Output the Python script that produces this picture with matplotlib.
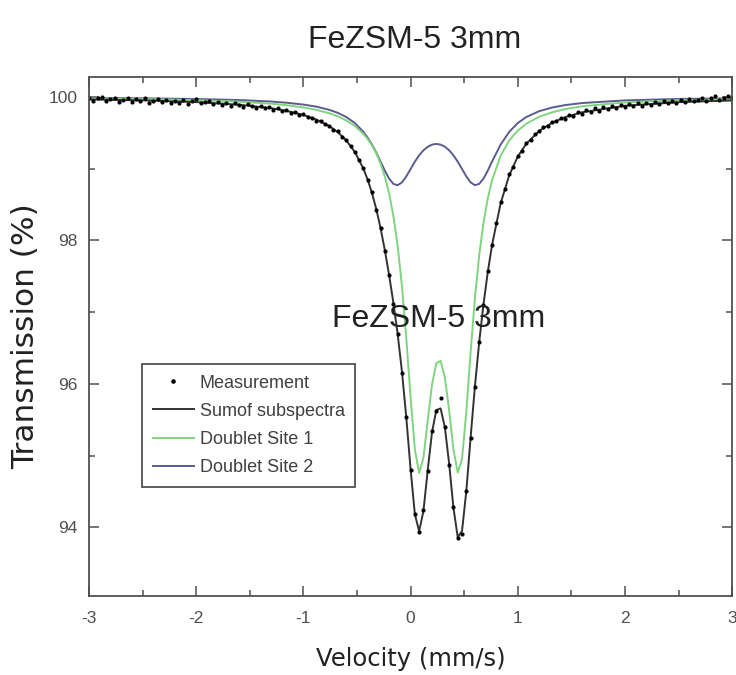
import numpy as np
import matplotlib.pyplot as plt
from matplotlib.ticker import MultipleLocator

plt.rcParams['axes.unicode_minus'] = False

# --- data ---
# measurement channels, evenly spaced between -3 and 3 mm/s
vel = np.linspace(-3.0, 3.0, 151)
measurement = [
    99.99, 99.95, 99.98, 100.00, 99.94, 99.97, 99.99, 99.93, 99.96, 99.98,
    99.93, 99.97, 99.95, 99.99, 99.92, 99.94, 99.97, 99.93, 99.96, 99.91,
    99.95, 99.92, 99.96, 99.90, 99.94, 99.97, 99.91, 99.93, 99.95, 99.90,
    99.93, 99.89, 99.92, 99.88, 99.91, 99.89, 99.86, 99.90, 99.87, 99.85,
    99.88, 99.84, 99.86, 99.82, 99.84, 99.80, 99.82, 99.78, 99.79, 99.75,
    99.76, 99.72, 99.71, 99.67, 99.67, 99.62, 99.60, 99.54, 99.52, 99.44,
    99.40, 99.31, 99.24, 99.12, 99.01, 98.84, 98.67, 98.43, 98.18, 97.85,
    97.52, 97.11, 96.70, 96.15, 95.54, 94.80, 94.19, 93.93, 94.24, 94.78,
    95.34, 95.62, 95.80, 95.40, 94.87, 94.28, 93.85, 93.90, 94.50, 95.25,
    95.95, 96.59, 97.10, 97.57, 97.93, 98.24, 98.53, 98.72, 98.92, 99.03,
    99.18, 99.25, 99.36, 99.40, 99.49, 99.52, 99.58, 99.59, 99.65, 99.66,
    99.71, 99.70, 99.75, 99.74, 99.79, 99.77, 99.82, 99.79, 99.84, 99.81,
    99.86, 99.83, 99.87, 99.84, 99.89, 99.86, 99.90, 99.87, 99.91, 99.88,
    99.92, 99.89, 99.93, 99.90, 99.94, 99.91, 99.95, 99.92, 99.96, 99.93,
    99.97, 99.94, 99.96, 99.99, 99.95, 99.98, 100.01, 99.96, 99.99, 100.02,
    99.98,
]

# fitted curves
fit_vel = [-3.0, -2.5, -2.0, -1.6, -1.3, -1.16, -1.0, -0.88, -0.76, -0.68,
           -0.6, -0.52, -0.44, -0.4, -0.36, -0.32, -0.28, -0.24, -0.2, -0.16,
           -0.12, -0.08, -0.04, 0.0, 0.04, 0.08, 0.12, 0.16, 0.2, 0.24,
           0.28, 0.32, 0.36, 0.4, 0.44, 0.48, 0.52, 0.56, 0.6, 0.64,
           0.68, 0.72, 0.76, 0.84, 0.92, 1.0, 1.08, 1.2, 1.32, 1.44,
           1.6, 2.0, 2.5, 3.0]
sum_fit = [99.966, 99.953, 99.929, 99.893, 99.844, 99.808, 99.750, 99.687, 99.596, 99.511,
           99.395, 99.233, 99.000, 98.846, 98.660, 98.437, 98.171, 97.862, 97.514, 97.125,
           96.687, 96.165, 95.530, 94.810, 94.180, 93.943, 94.226, 94.794, 95.325, 95.633,
           95.657, 95.393, 94.883, 94.270, 93.861, 93.947, 94.502, 95.247, 95.960, 96.578,
           97.105, 97.555, 97.936, 98.516, 98.907, 99.169, 99.349, 99.527, 99.641, 99.718,
           99.787, 99.878, 99.928, 99.952]
site1 = [99.979, 99.971, 99.956, 99.935, 99.907, 99.887, 99.855, 99.822, 99.774, 99.731,
         99.674, 99.596, 99.486, 99.413, 99.324, 99.213, 99.072, 98.890, 98.653, 98.337,
         97.917, 97.355, 96.637, 95.814, 95.082, 94.756, 94.969, 95.488, 95.989, 96.287,
         96.321, 96.087, 95.626, 95.083, 94.763, 94.951, 95.609, 96.437, 97.190, 97.790,
         98.244, 98.583, 98.837, 99.180, 99.393, 99.532, 99.628, 99.725, 99.787, 99.831,
         99.871, 99.925, 99.955, 99.970]
site2 = [99.987, 99.982, 99.972, 99.958, 99.937, 99.921, 99.895, 99.866, 99.822, 99.780,
         99.721, 99.637, 99.514, 99.433, 99.336, 99.224, 99.099, 98.972, 98.861, 98.788,
         98.770, 98.810, 98.893, 98.996, 99.098, 99.187, 99.257, 99.306, 99.336, 99.346,
         99.336, 99.307, 99.257, 99.187, 99.098, 98.996, 98.893, 98.810, 98.770, 98.788,
         98.861, 98.972, 99.099, 99.336, 99.514, 99.637, 99.721, 99.803, 99.853, 99.887,
         99.916, 99.953, 99.973, 99.982]

sample = 'FeZSM-5 3mm'
grey = '#505050'

# --- figure ---
fig = plt.figure(figsize=(7.36, 6.75), dpi=100)
ax = fig.add_axes([0.121, 0.117, 0.8737, 0.769])

l2, = ax.plot(fit_vel, site2, color='#5b5b8f', lw=1.4, label='Doublet Site 2')
l1, = ax.plot(fit_vel, site1, color='#80d480', lw=1.4, label='Doublet Site 1')
ls, = ax.plot(fit_vel, sum_fit, color='#333333', lw=1.4, label='Sumof subspectra')
lm, = ax.plot(vel, measurement, 'o', color='black', ms=3.0, mew=0, label='Measurement')

ax.set_xlim(-3, 3)
ax.set_ylim(93.04, 100.28)
ax.xaxis.set_major_locator(MultipleLocator(1))
ax.xaxis.set_minor_locator(MultipleLocator(0.5))
ax.yaxis.set_major_locator(MultipleLocator(2))
ax.yaxis.set_minor_locator(MultipleLocator(1))
ax.tick_params(which='both', direction='in', top=True, right=True, color=grey,
               width=1.1, labelcolor=grey, labelsize=12.5)
ax.tick_params(which='major', length=7)
ax.tick_params(which='minor', length=4)
ax.tick_params(axis='x', pad=11)
ax.tick_params(axis='y', pad=8)
for lab in ax.get_xticklabels() + ax.get_yticklabels():
    lab.set_family('Liberation Sans')
for sp in ax.spines.values():
    sp.set_color(grey)
    sp.set_linewidth(1.3)

ax.set_xlabel('Velocity (mm/s)', fontsize=17.5, color='#222222', labelpad=15)
ax.set_ylabel('Transmission (%)', fontsize=22.5, color='#222222', labelpad=6)

ax.text(0.26, 96.9, sample, ha='center', va='center', fontsize=23,
        family='Liberation Sans', color='#222222')
fig.text(0.564, 0.94, sample, ha='center', va='center', fontsize=23,
         family='Liberation Sans', color='#222222')

leg = ax.legend(handles=[lm, ls, l1, l2], loc='lower left',
                bbox_to_anchor=(0.082, 0.21), borderaxespad=0, fancybox=False,
                edgecolor=grey, framealpha=1, borderpad=0.6, handlelength=2.3,
                handletextpad=0.3, labelspacing=0.62, markerscale=1.1,
                prop={'family': 'Liberation Sans', 'size': 13})
leg.get_frame().set_linewidth(1.3)
for t in leg.get_texts():
    t.set_color('#404040')

fig.savefig('out.png', dpi=100)
